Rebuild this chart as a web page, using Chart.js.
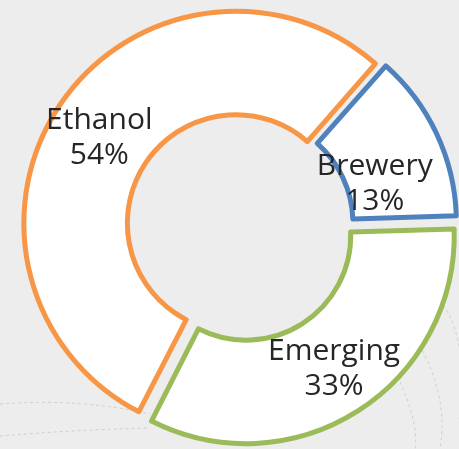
<!DOCTYPE html>
<html>
<head>
<meta charset="utf-8">
<title>Market share by segment</title>
<script src="https://cdn.jsdelivr.net/npm/chart.js@4/dist/chart.umd.min.js"></script>
<style>
  html, body {
    margin: 0;
    padding: 0;
    width: 459px;
    height: 449px;
    overflow: hidden;
    background: #ededed;
  }
  #chart-box {
    position: absolute;
    left: 0;
    top: 0;
    width: 480px;
    height: 452px;
  }
</style>
</head>
<body>
<div id="chart-box">
  <canvas id="segment-chart"></canvas>
</div>
<script>
const segments = ['Ethanol', 'Brewery', 'Emerging'];
const sharePercent = [54, 13, 33];
const segmentColors = ['#f79646', '#4f81bd', '#9bbb59'];

// where each two-line label sits inside its slice:
// angle = fraction of the slice sweep, depth = fraction of the ring thickness
const labelPlacement = [
  { angle: 0.49, depth: 0.56 },
  { angle: 0.67, depth: 0.29 },
  { angle: 0.49, depth: 0.54 }
];

// faint swooshes of the slide background, drawn under the doughnut
const backdropCurves = {
  id: 'backdropCurves',
  beforeDraw(chart) {
    const { ctx } = chart;
    ctx.save();
    ctx.strokeStyle = 'rgba(140, 140, 140, 0.3)';
    ctx.lineWidth = 1;
    ctx.setLineDash([3, 3]);
    const curves = [
      [0, 404, 80, 398, 150, 414],
      [0, 436, 70, 430, 150, 428],
      [440, 300, 470, 340, 459, 420],
      [410, 330, 450, 390, 440, 449],
      [390, 360, 420, 420, 415, 449]
    ];
    curves.forEach(([x0, y0, cx, cy, x1, y1]) => {
      ctx.beginPath();
      ctx.moveTo(x0, y0);
      ctx.quadraticCurveTo(cx, cy, x1, y1);
      ctx.stroke();
    });
    ctx.restore();
  }
};

const sliceLabels = {
  id: 'sliceLabels',
  afterDatasetsDraw(chart) {
    const { ctx } = chart;
    const meta = chart.getDatasetMeta(0);

    ctx.save();
    ctx.font = '30px "Open Sans"';
    ctx.fillStyle = '#262626';
    ctx.textAlign = 'center';
    ctx.textBaseline = 'middle';

    meta.data.forEach((arc, index) => {
      const { x, y, startAngle, endAngle, innerRadius, outerRadius } =
        arc.getProps(['x', 'y', 'startAngle', 'endAngle', 'innerRadius', 'outerRadius'], true);
      const shift = (arc.options.offset || 0) / 4;
      const half = (startAngle + endAngle) / 2;
      const place = labelPlacement[index];
      const angle = startAngle + (endAngle - startAngle) * place.angle;
      const radius = innerRadius + (outerRadius - innerRadius) * place.depth;
      const px = x + Math.cos(half) * shift + Math.cos(angle) * radius;
      const py = y + Math.sin(half) * shift + Math.sin(angle) * radius;

      ctx.fillText(segments[index], px, py - 17);
      ctx.fillText(sharePercent[index] + '%', px, py + 18);
    });

    ctx.restore();
  }
};

new Chart(document.getElementById('segment-chart'), {
  type: 'doughnut',
  data: {
    labels: segments,
    datasets: [{
      data: sharePercent,
      backgroundColor: '#ffffff',
      borderColor: segmentColors,
      borderWidth: 5,
      borderJoinStyle: 'round',
      offset: [20, 32, 44]
    }]
  },
  options: {
    responsive: true,
    maintainAspectRatio: false,
    animation: false,
    events: [],
    rotation: 207,
    radius: 207,
    cutout: '50%',
    layout: { padding: 0 },
    plugins: {
      legend: { display: false },
      tooltip: { enabled: false }
    }
  },
  plugins: [backdropCurves, sliceLabels]
});
</script>
</body>
</html>
